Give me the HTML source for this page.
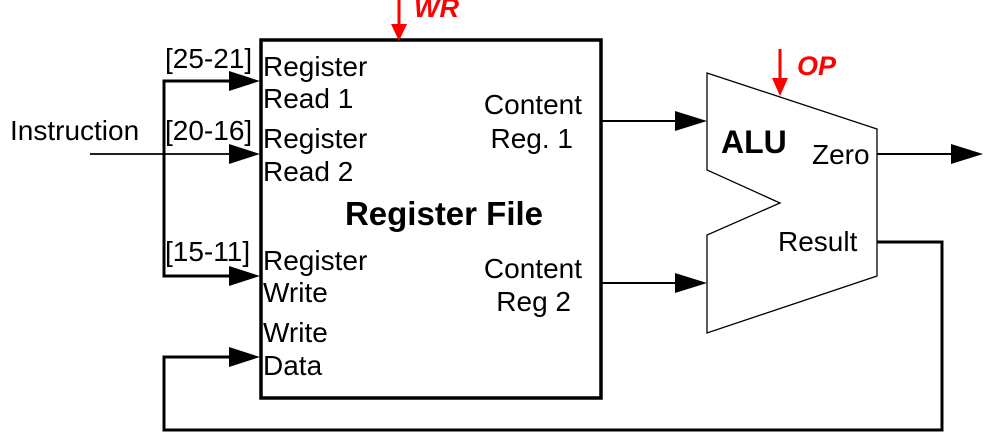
<!DOCTYPE html>
<html><head><style>html,body{margin:0;padding:0;background:#fff}svg{display:block}text{font-family:"Liberation Sans",sans-serif;font-size:28px;fill:#000}</style></head>
<body>
<svg width="989" height="448" viewBox="0 0 989 448">
<rect x="261" y="40" width="340" height="358" fill="none" stroke="#000" stroke-width="3.5"/>
<polygon points="707,73 877,129 877,276 707,333 707,235 780,203 707,170" fill="none" stroke="#000" stroke-width="1.3"/>
<polyline points="230,81 164,81 164,276 230,276" fill="none" stroke="#000" stroke-width="3"/>
<line x1="90" y1="154" x2="230" y2="154" stroke="#000" stroke-width="1.8"/>
<polygon points="229,71 260,81 229,91" fill="#000"/>
<polygon points="229,144 260,154 229,164" fill="#000"/>
<polygon points="229,266 260,276 229,286" fill="#000"/>
<polyline points="877,242 942,242 942,430 164,430 164,357 230,357" fill="none" stroke="#000" stroke-width="3"/>
<polygon points="229,347 260,357 229,367" fill="#000"/>
<line x1="601" y1="121" x2="676" y2="121" stroke="#000" stroke-width="2"/>
<polygon points="675,111 707,121 675,131" fill="#000"/>
<line x1="601" y1="283" x2="676" y2="283" stroke="#000" stroke-width="2"/>
<polygon points="675,273 707,283 675,293" fill="#000"/>
<line x1="877" y1="154" x2="952" y2="154" stroke="#000" stroke-width="2"/>
<polygon points="951,144 983,154 951,164" fill="#000"/>
<line x1="399" y1="0" x2="399" y2="26" stroke="#f00" stroke-width="3"/>
<polygon points="391,24 407,24 399,41" fill="#f00"/>
<line x1="780" y1="49" x2="780" y2="80" stroke="#f00" stroke-width="3"/>
<polygon points="772,78 788,78 780,96" fill="#f00"/>
<text x="414" y="17" style="fill:#f00;font-weight:bold;font-style:italic;font-size:27px">WR</text>
<text x="797" y="75" style="fill:#f00;font-weight:bold;font-style:italic;font-size:27px">OP</text>
<text x="10" y="140">Instruction</text>
<text x="165" y="68">[25-21]</text>
<text x="165" y="140">[20-16]</text>
<text x="165" y="261">[15-11]</text>
<text x="263" y="76">Register</text>
<text x="263" y="108">Read 1</text>
<text x="263" y="148">Register</text>
<text x="263" y="181">Read 2</text>
<text x="263" y="270">Register</text>
<text x="263" y="302">Write</text>
<text x="263" y="342">Write</text>
<text x="263" y="375">Data</text>
<text x="582" y="114" text-anchor="end">Content</text>
<text x="573" y="148" text-anchor="end">Reg. 1</text>
<text x="582" y="278" text-anchor="end">Content</text>
<text x="571" y="311" text-anchor="end">Reg 2</text>
<text x="444" y="225" text-anchor="middle" style="font-weight:bold;font-size:33px">Register File</text>
<text x="721" y="153" style="font-weight:bold;font-size:32px">ALU</text>
<text x="812" y="164">Zero</text>
<text x="778" y="251">Result</text>
</svg>
</body></html>
